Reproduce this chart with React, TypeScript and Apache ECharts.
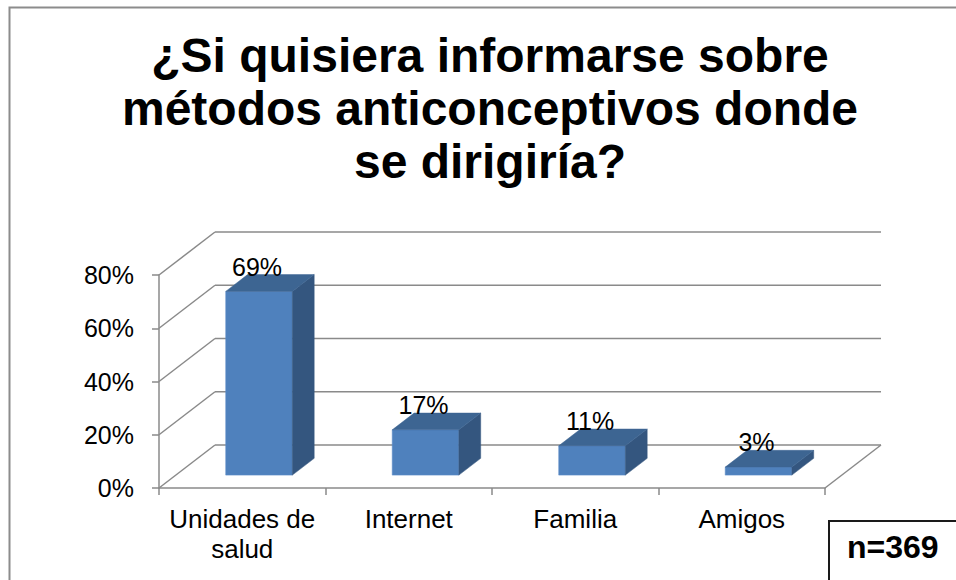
import React, { useEffect, useRef } from "react";
import * as echarts from "echarts";

const categories = ["Unidades de\nsalud", "Internet", "Familia", "Amigos"];
const values = [69, 17, 11, 3];
const yTicks = [0, 20, 40, 60, 80];
const titleText = "¿Si quisiera informarse sobre\nmétodos anticonceptivos donde\nse dirigiría?";
const noteText = "n=369";

const FONT = '"Liberation Sans", Arial, sans-serif';
const DX = 56; // depth offset (px)
const DY = 43;
const Z0 = 0.3; // bar front depth fraction
const Z1 = 0.69; // bar back depth fraction
const BAR_W = 0.4; // fraction of category width
const GRID_COLOR = "#8a8a8a";

export default function App() {
  const ref = useRef<HTMLDivElement>(null);

  useEffect(() => {
    document.body.style.margin = "0";
    const chart = echarts.init(ref.current!, null, { renderer: "svg" });

    const option: any = {
      animation: false,
      backgroundColor: "#ffffff",
      grid: { left: 159, top: 275, width: 666, height: 213, containLabel: false },
      xAxis: {
        type: "category",
        data: categories,
        boundaryGap: true,
        axisLine: { show: true, lineStyle: { color: GRID_COLOR, width: 1.5 } },
        axisTick: { show: true, length: 7, lineStyle: { color: GRID_COLOR, width: 1.5 } },
        axisLabel: {
          interval: 0,
          fontSize: 26,
          lineHeight: 30,
          color: "#000",
          fontFamily: FONT,
          margin: 16,
        },
        splitLine: { show: false },
      },
      yAxis: {
        type: "value",
        min: 0,
        max: 80,
        interval: 20,
        axisLine: { show: true, lineStyle: { color: GRID_COLOR, width: 1.5 } },
        axisTick: { show: true, length: 7, lineStyle: { color: GRID_COLOR, width: 1.5 } },
        axisLabel: {
          formatter: "{value}%",
          fontSize: 25,
          color: "#000",
          fontFamily: FONT,
          margin: 25,
        },
        splitLine: { show: false },
      },
      graphic: [
        {
          type: "rect",
          shape: { x: 9.5, y: 7.5, width: 1200, height: 1200 },
          style: { fill: "none", stroke: "#8c8c8c", lineWidth: 2 },
          z: 0,
        },
        {
          type: "text",
          style: {
            text: titleText,
            x: 490,
            y: 29,
            textAlign: "center",
            textVerticalAlign: "top",
            font: `bold 48px ${FONT}`,
            lineHeight: 53,
            fill: "#000",
          },
        },
        {
          type: "rect",
          shape: { x: 829, y: 521, width: 300, height: 200 },
          style: { fill: "#fff", stroke: "#1a1a1a", lineWidth: 2 },
        },
        {
          type: "text",
          style: {
            text: noteText,
            x: 847,
            y: 547,
            textAlign: "left",
            textVerticalAlign: "middle",
            font: `bold 32px ${FONT}`,
            fill: "#000",
          },
        },
      ],
      series: [
        {
          type: "custom",
          z: 1,
          clip: false,
          silent: true,
          data: yTicks.map((v) => [0, v]),
          renderItem: (params: any, api: any) => {
            const v = api.value(1);
            const pL = api.coord([0, v]);
            const pR = api.coord([categories.length - 1, v]);
            const w = api.size([1, 0])[0];
            const xL = pL[0] - w / 2;
            const xR = pR[0] + w / 2;
            const y = pL[1];
            const ls = { stroke: GRID_COLOR, lineWidth: 1.5 };
            const children: any[] = [
              { type: "line", shape: { x1: xL, y1: y, x2: xL + DX, y2: y - DY }, style: ls },
              { type: "line", shape: { x1: xL + DX, y1: y - DY, x2: xR + DX, y2: y - DY }, style: ls },
            ];
            if (v === 0) {
              children.push({ type: "line", shape: { x1: xR, y1: y, x2: xR + DX, y2: y - DY }, style: ls });
            }
            return { type: "group", children };
          },
        },
        {
          type: "custom",
          z: 2,
          clip: false,
          silent: true,
          data: values.map((v, i) => [i, v]),
          encode: { x: 0, y: 1 },
          renderItem: (params: any, api: any) => {
            const i = api.value(0);
            const v = api.value(1);
            const base = api.coord([i, 0]);
            const top = api.coord([i, v]);
            const cw = api.size([1, 0])[0];
            const bw = cw * BAR_W;
            const ox = Z0 * DX;
            const oy = Z0 * DY;
            const ddx = (Z1 - Z0) * DX;
            const ddy = (Z1 - Z0) * DY;
            const cx = base[0] + ox;
            const xl = cx - bw / 2;
            const xr = cx + bw / 2;
            const yb = base[1] - oy;
            const yt = top[1] - oy;
            return {
              type: "group",
              children: [
                {
                  type: "polygon",
                  shape: { points: [[xl, yb], [xr, yb], [xr, yt], [xl, yt]] },
                  style: { fill: "#4F81BD", stroke: "#5b8cc8", lineWidth: 0.6 },
                },
                {
                  type: "polygon",
                  shape: { points: [[xr, yb], [xr + ddx, yb - ddy], [xr + ddx, yt - ddy], [xr, yt]] },
                  style: { fill: "#34567F", stroke: "#34567F", lineWidth: 0.5 },
                },
                {
                  type: "polygon",
                  shape: { points: [[xl, yt], [xr, yt], [xr + ddx, yt - ddy], [xl + ddx, yt - ddy]] },
                  style: { fill: "#3D6592", stroke: "#3D6592", lineWidth: 0.5 },
                },
                {
                  type: "text",
                  style: {
                    text: `${v}%`,
                    x: cx - 2,
                    y: yt - ddy - 8,
                    textAlign: "center",
                    textVerticalAlign: "middle",
                    font: `25px ${FONT}`,
                    fill: "#000",
                  },
                  z2: 10,
                },
              ],
            };
          },
        },
      ],
    };

    chart.setOption(option);
    return () => chart.dispose();
  }, []);

  return <div ref={ref} style={{ width: 956, height: 580 }} />;
}
